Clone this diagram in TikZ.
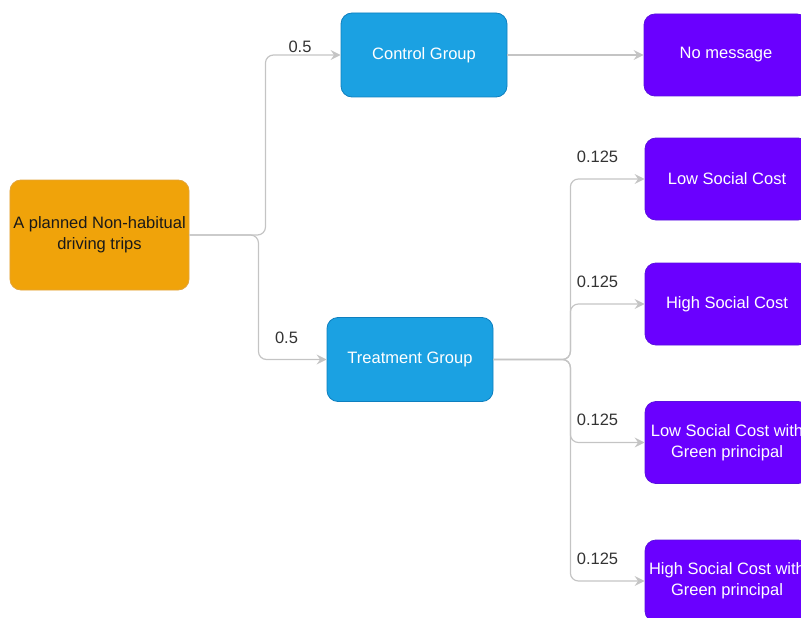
\documentclass[tikz,border=0pt]{standalone}
\usepackage{fontspec}
\setmainfont{Liberation Sans}
\usepackage{tikz}
\usetikzlibrary{arrows.meta}

\definecolor{amber}{HTML}{F0A30A}
\definecolor{amberline}{HTML}{E3A43A}
\definecolor{sky}{HTML}{1BA1E2}
\definecolor{skyline}{HTML}{0E7FBF}
\definecolor{grape}{HTML}{6A00FF}
\definecolor{grapeline}{HTML}{5A10E0}
\definecolor{wire}{HTML}{C4C4C4}
\definecolor{ink}{HTML}{333333}

\begin{document}
\begin{tikzpicture}[x=1pt, y=-1pt,
    box/.style={draw, rounded corners=11pt, line width=0.8pt, align=center,
      font=\fontsize{16.5}{21}\selectfont},
    start/.style={box, fill=amber, draw=amberline, text=black!90,
      minimum width=179pt, minimum height=110pt},
    grp/.style={box, fill=sky, draw=skyline, text=white,
      minimum width=166pt, minimum height=84pt},
    arm/.style={box, fill=grape, draw=grapeline, text=white,
      minimum width=164pt, minimum height=82pt},
    edge/.style={draw=wire, line width=1.2pt, rounded corners=8pt,
      -{Stealth[length=10pt, width=10pt, inset=3.5pt]}},
    prob/.style={font=\fontsize{16.5}{19}\selectfont, text=ink, inner sep=0pt}]
  \useasboundingbox (0,0) rectangle (801,618);
  \clip (0,0) rectangle (801,618);

  % trip and the two groups
  \node[start] (trip) at (99.5,235) {A planned Non-habitual\\driving trips};
  \node[grp] (ctl) at (424,55) {Control Group};
  \node[grp] (trt) at (410,359.5) {Treatment Group};
  \node[arm] (nomsg) at (726,55) {No message};

  \draw[edge] (trip.east) -- ++(76,0) |- (ctl.west)
    node[prob, pos=0.75, above=2pt, xshift=-3pt] {0.5};
  \draw[edge] (trip.east) -- ++(69,0) |- (trt.west)
    node[prob, pos=0.75, above=15pt, xshift=-6pt] {0.5};
  \draw[edge] (ctl) -- (nomsg);

  % treatment arms
  \foreach \n/\y/\txt in {lsc/179/{Low Social Cost},
                          hsc/304/{High Social Cost},
                          lscg/442.5/{Low Social Cost with\\Green principal},
                          hscg/581/{High Social Cost with\\Green principal}}{
    \node[arm] (\n) at (727,\y) {\txt};
    \draw[edge] (trt.east) -- ++(77,0) |- (\n.west)
      node[prob, pos=0.75, above=16pt, xshift=-10pt] {0.125};
  }
\end{tikzpicture}
\end{document}
